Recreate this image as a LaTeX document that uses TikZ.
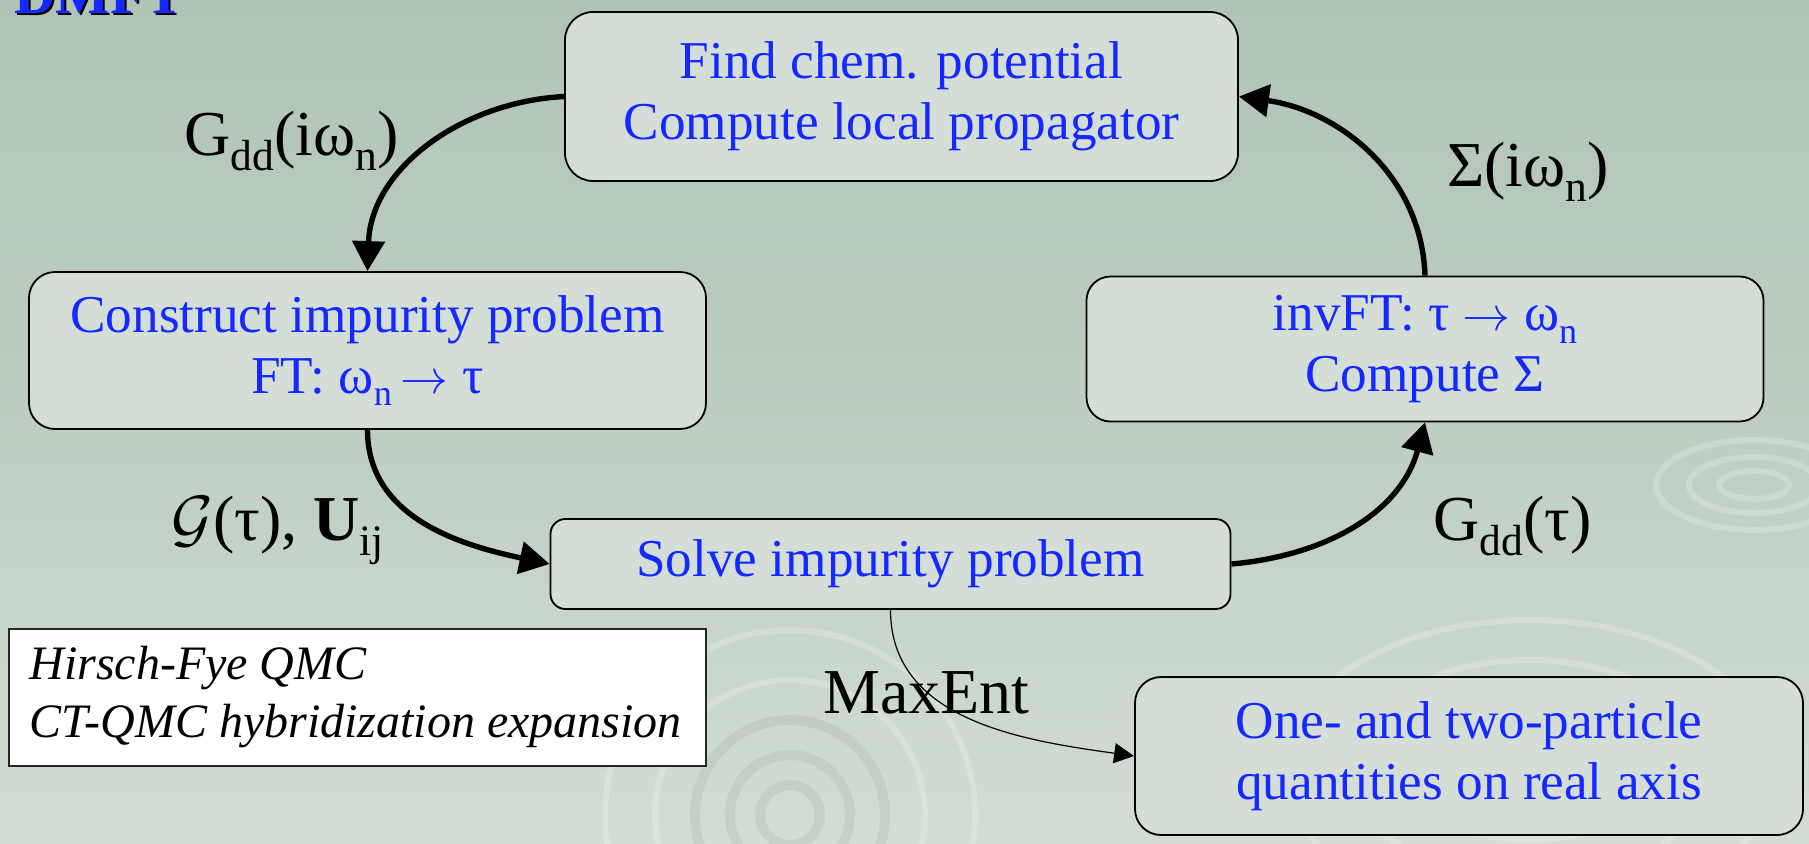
\documentclass[tikz,border=0pt]{standalone}
\usepackage{fontspec}
\setmainfont{Liberation Serif}
\usepackage{graphicx}
\usetikzlibrary{arrows.meta}
\definecolor{bgtop}{RGB}{176,196,181}
\definecolor{bgbot}{RGB}{210,221,212}
\definecolor{boxfill}{RGB}{212,222,214}
\definecolor{txtblue}{RGB}{20,40,255}
\newcommand{\sbs}[1]{\raisebox{-0.24em}{\scalebox{0.68}{#1}}}
\newcommand{\calG}{{\fontsize{10}{12}\selectfont\scalebox{3.2}{$\mathcal{G}$}}}
\newcommand{\arr}{{\fontsize{10}{12}\selectfont\scalebox{2.4}{$\rightarrow$}}}
\begin{document}
\begin{tikzpicture}[x=0.5pt,y=0.5pt,
  stepbox/.style={draw=black, line width=0.9pt, fill=boxfill, text=txtblue, align=center, inner sep=0pt, font=\fontsize{26.6}{30.5}\selectfont},
  lbl/.style={anchor=base west, inner sep=0pt, font=\fontsize{32}{38}\selectfont},
  flow/.style={line width=2.7pt, -{Triangle[length=15pt,width=16pt]}},
  thinflow/.style={line width=0.6pt, -{Triangle[length=10pt,width=10pt]}},
  ring/.style={draw=white, opacity=0.2, line width=3pt},
  darkring/.style={draw=black, opacity=0.05, line width=5pt}
]
\useasboundingbox (0,0) rectangle (1809,-843);
\shade[top color=bgtop, bottom color=bgbot, middle color=bgtop!60!bgbot] (0,0) rectangle (1809,-843);
\begin{scope}
\clip (0,0) rectangle (1809,-843);
\draw[ring] (1754,-485) ellipse (35 and 14);
\draw[ring] (1754,-485) ellipse (65 and 28);
\draw[ring] (1754,-485) ellipse (98 and 45);
\draw[ring] (1530,-770) ellipse (120 and 70);
\draw[ring] (1530,-770) ellipse (180 and 110);
\draw[ring] (1530,-770) ellipse (245 and 150);
\draw[darkring] (790,-815) circle (30);
\draw[darkring] (790,-815) circle (60);
\draw[darkring] (790,-815) circle (95);
\draw[ring] (790,-815) circle (135);
\draw[ring] (790,-815) circle (185);
\end{scope}

\node[anchor=base west, inner sep=0pt, font=\bfseries\fontsize{28.7}{34}\selectfont, text=black] (titleshadow) at (16,-15) {DMFT};
\node[anchor=base west, inner sep=0pt, font=\bfseries\fontsize{28.7}{34}\selectfont, text=txtblue] (title) at (14,-13) {DMFT};

\node[stepbox, minimum width=336.5pt, minimum height=84.5pt, rounded corners=14pt] (findchem) at (901.5,-96.5) {Find chem. potential\\Compute local propagator};
\node[stepbox, minimum width=338.5pt, minimum height=78.5pt, rounded corners=13pt] (construct) at (367.5,-350.5) {Construct impurity problem\\FT: ω\sbs{n}\,\arr\ τ};
\node[stepbox, minimum width=338.5pt, minimum height=72.5pt, rounded corners=12pt] (invft) at (1425,-349) {invFT: τ \arr\ ω\sbs{n}\\Compute Σ};
\node[stepbox, minimum width=340pt, minimum height=45pt, rounded corners=7.5pt] (solve) at (890.5,-564) {Solve impurity problem};
\node[stepbox, minimum width=334pt, minimum height=79pt, rounded corners=13pt] (real) at (1469,-756) {One- and two-particle\\quantities on real axis};

\node[draw=black!85, line width=0.8pt, fill=white, minimum width=348.5pt, minimum height=68.5pt, inner sep=0pt] (methods) at (357.5,-697.5) {};
\node[anchor=west, align=left, inner sep=0pt, font=\itshape\fontsize{24}{29}\selectfont] (methodstext) at (29,-697.5) {Hirsch-Fye QMC\\CT-QMC hybridization expansion};

\node[lbl] (lgdd) at (184,-155) {G\sbs{dd}(iω\sbs{n})};
\node[lbl] (lsig) at (1447,-186) {Σ(iω\sbs{n})};
\node[lbl] (lgcal) at (171,-540) {\calG(τ), \textbf{U}\sbs{ij}};
\node[lbl] (lgtau) at (1433,-540) {G\sbs{dd}(τ)};
\node[lbl] (lmax) at (823,-713) {MaxEnt};

\draw[flow] (findchem.west) to[out=183,in=88] (construct.north);
\draw[flow] (construct.south) to[out=-90,in=168] (solve.west);
\draw[flow] (solve.east) to[out=5,in=-105] (invft.south);
\draw[flow] (invft.north) to[out=92,in=-8] (findchem.east);
\draw[thinflow] (solve.south) to[out=-90,in=172] (real.west);
\end{tikzpicture}
\end{document}
